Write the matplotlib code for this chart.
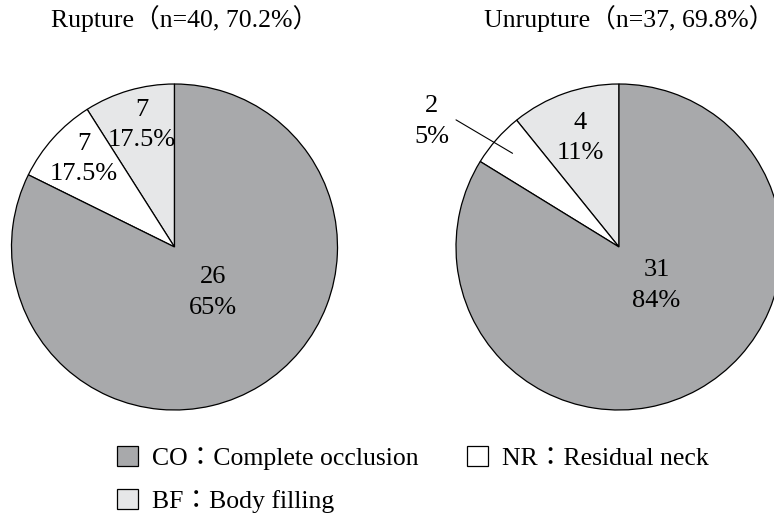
import matplotlib
matplotlib.use("Agg")
import matplotlib.pyplot as plt
from matplotlib.patches import Patch
import numpy as np

plt.rcParams['font.family'] = ['Liberation Serif', 'Noto Sans CJK JP']

# categories, in drawing order (counterclockwise from 12 o'clock)
codes = ['BF', 'NR', 'CO']
legend_names = {'CO': 'CO：Complete occlusion',
                'NR': 'NR：Residual neck',
                'BF': 'BF：Body filling'}
colors = {'CO': '#a8a9ab', 'NR': '#ffffff', 'BF': '#e6e7e8'}

titles = ['Rupture（n=40, 70.2%）', 'Unrupture（n=37, 69.8%）']

# counts and percentages as printed on the wedges
rupture_counts = [7, 7, 26]
rupture_pct = ['17.5%', '17.5%', '65%']
unrupture_counts = [4, 2, 31]
unrupture_pct = ['11%', '5%', '84%']

# wedge shares as drawn (the rupture pie in the source is not to scale)
rupture_drawn = [9.0, 8.7, 82.3]
unrupture_drawn = [4, 2, 31]

# label spots in pie-radius units
rupture_lblpos = [(-0.20, 0.75), (-0.555, 0.54), (0.235, -0.28)]
unrupture_lblpos = [(-0.24, 0.67), (-1.15, 0.77), (0.23, -0.235)]

W, H = 774, 514
fig = plt.figure(figsize=(W / 100, H / 100), dpi=100)

r_px = 163
centers = [(174.5, 247), (619, 247)]
drawn = [rupture_drawn, unrupture_drawn]
counts = [rupture_counts, unrupture_counts]
pcts = [rupture_pct, unrupture_pct]
lblpos = [rupture_lblpos, unrupture_lblpos]

for k in range(2):
    cx, cy = centers[k]
    ax = fig.add_axes([(cx - r_px) / W, (H - cy - r_px) / H, 2 * r_px / W, 2 * r_px / H])
    wedges, _ = ax.pie(drawn[k], colors=[colors[c] for c in codes], startangle=90,
                       counterclock=True, radius=1,
                       wedgeprops=dict(edgecolor='black', linewidth=0.9))
    ax.set_xlim(-1, 1)
    ax.set_ylim(-1, 1)
    # title sits a little right of the pie centre in the source
    ax.text(0.06, 1.0 + 57 / r_px, titles[k], ha='center', va='baseline', fontsize=18.5,
            transform=ax.transData)
    for i in range(3):
        x, y = lblpos[k][i]
        ax.text(x, y, f"{counts[k][i]}\n{pcts[k][i]}", ha='center', va='center',
                fontsize=19, linespacing=1.5)
    if k == 1:
        # leader line for the small NR wedge
        w = wedges[1]
        mid = np.deg2rad((w.theta1 + w.theta2) / 2)
        ax.annotate('', xy=(0.87 * np.cos(mid), 0.87 * np.sin(mid)), xytext=(-1.0, 0.78),
                    arrowprops=dict(arrowstyle='-', color='black', linewidth=0.8,
                                    shrinkA=0, shrinkB=0))

handles = [Patch(facecolor=colors[c], edgecolor='black', linewidth=0.9) for c in ['CO', 'BF', 'NR']]
labels = [legend_names[c] for c in ['CO', 'BF', 'NR']]
fig.legend(handles, labels, ncol=2, loc='upper left', bbox_to_anchor=(117 / W, 1 - 446 / H),
           frameon=False, fontsize=18.5, handlelength=0.82, handleheight=0.82,
           handletextpad=0.55, columnspacing=1.86, labelspacing=0.76, borderpad=0, borderaxespad=0)

fig.savefig('out.png', dpi=100)
